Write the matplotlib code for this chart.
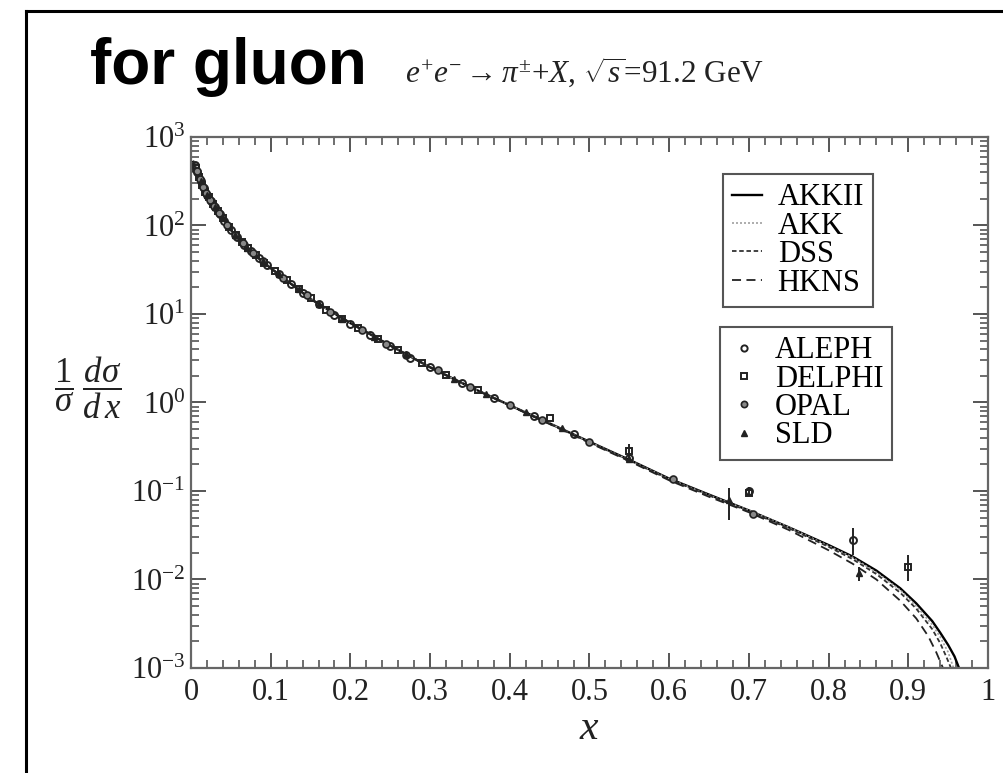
import matplotlib
matplotlib.use("Agg")
import matplotlib.pyplot as plt
from matplotlib.lines import Line2D
from matplotlib.ticker import FixedLocator, FixedFormatter, LogLocator, NullFormatter

plt.rcParams['font.family'] = ['Liberation Serif', 'DejaVu Serif']
plt.rcParams['mathtext.fontset'] = 'custom'
plt.rcParams['mathtext.rm'] = 'Liberation Serif'
plt.rcParams['mathtext.it'] = 'Liberation Serif:italic'
plt.rcParams['mathtext.bf'] = 'Liberation Serif:bold'

# ---------------- theory curves ----------------
akkii_x = [0.003, 0.01, 0.02, 0.03, 0.05, 0.07, 0.10, 0.15, 0.20, 0.25, 0.30, 0.35, 0.40, 0.45,
           0.50, 0.55, 0.60, 0.65, 0.70, 0.75, 0.80, 0.83, 0.86, 0.89, 0.91, 0.93, 0.94, 0.95, 0.958, 0.965]
akkii_y = [525, 355, 229, 166, 89, 55, 33, 14.8, 7.9, 4.4, 2.5, 1.5, 0.93, 0.58,
           0.36, 0.225, 0.138, 0.091, 0.0603, 0.0389, 0.0245, 0.0182, 0.0126, 0.00794, 0.00537,
           0.00339, 0.00251, 0.00182, 0.00135, 0.00093]

akk_x = [0.003, 0.01, 0.02, 0.03, 0.05, 0.07, 0.10, 0.15, 0.20, 0.25, 0.30, 0.35, 0.40, 0.45,
         0.50, 0.55, 0.60, 0.65, 0.70, 0.75, 0.80, 0.83, 0.86, 0.89, 0.91, 0.93, 0.94, 0.95, 0.958]
akk_y = [525, 355, 229, 166, 89, 55, 33, 14.8, 7.9, 4.4, 2.5, 1.5, 0.93, 0.58,
         0.358, 0.223, 0.137, 0.090, 0.0603, 0.0389, 0.0240, 0.0178, 0.0120, 0.00759, 0.00501,
         0.00309, 0.00224, 0.00151, 0.00093]

dss_x = [0.003, 0.01, 0.02, 0.03, 0.05, 0.07, 0.10, 0.15, 0.20, 0.25, 0.30, 0.35, 0.40, 0.45,
         0.50, 0.55, 0.60, 0.65, 0.70, 0.75, 0.80, 0.83, 0.86, 0.89, 0.91, 0.93, 0.94, 0.948, 0.955]
dss_y = [520, 350, 227, 165, 89, 55, 33, 14.8, 7.9, 4.4, 2.5, 1.5, 0.93, 0.575,
         0.355, 0.221, 0.135, 0.089, 0.0589, 0.0380, 0.0234, 0.0170, 0.0115, 0.00708, 0.00468,
         0.00275, 0.00191, 0.00132, 0.00093]

hkns_x = [0.003, 0.01, 0.02, 0.03, 0.05, 0.07, 0.10, 0.15, 0.20, 0.25, 0.30, 0.35, 0.40, 0.45,
          0.50, 0.55, 0.60, 0.65, 0.70, 0.75, 0.80, 0.83, 0.86, 0.89, 0.91, 0.925, 0.935, 0.945]
hkns_y = [515, 350, 227, 165, 89, 55, 33, 14.8, 7.9, 4.4, 2.5, 1.5, 0.92, 0.57,
          0.35, 0.217, 0.132, 0.086, 0.0575, 0.0363, 0.0214, 0.0151, 0.0100, 0.00575, 0.00363,
          0.00229, 0.00151, 0.00093]

# ---------------- data ----------------
aleph_x = [0.005, 0.008, 0.012, 0.016, 0.020, 0.025, 0.030, 0.036, 0.042, 0.050, 0.058, 0.066,
           0.075, 0.085, 0.095, 0.110, 0.125, 0.140, 0.160, 0.180, 0.200, 0.225, 0.250, 0.275,
           0.300, 0.340, 0.380, 0.430, 0.480, 0.550, 0.700, 0.830]
aleph_y = [480, 400, 316, 263, 224, 190, 162, 135, 112, 89, 74, 60,
           51, 43, 36, 28, 22, 17.4, 12.9, 9.8, 7.8, 5.8, 4.4, 3.2,
           2.5, 1.66, 1.12, 0.71, 0.44, 0.235, 0.100, 0.028]

delphi_x = [0.006, 0.010, 0.014, 0.018, 0.022, 0.028, 0.034, 0.040, 0.048, 0.056, 0.064, 0.072,
            0.082, 0.092, 0.105, 0.120, 0.135, 0.150, 0.170, 0.190, 0.210, 0.235, 0.260, 0.290,
            0.320, 0.360, 0.450, 0.550, 0.700, 0.900]
delphi_y = [447, 355, 288, 240, 209, 174, 145, 120, 95, 78, 65, 55,
            46, 38, 31, 24, 19, 15, 11.2, 8.7, 6.9, 5.2, 3.9, 2.8,
            2.05, 1.38, 0.66, 0.28, 0.095, 0.014]

opal_x = [0.007, 0.011, 0.015, 0.019, 0.024, 0.029, 0.035, 0.045, 0.055, 0.065, 0.078, 0.090,
          0.115, 0.145, 0.175, 0.215, 0.245, 0.270, 0.310, 0.350, 0.400, 0.440, 0.500, 0.605, 0.705]
opal_y = [417, 331, 275, 234, 195, 166, 138, 102, 79, 63, 49, 40,
          25.7, 16.2, 10.5, 6.6, 4.6, 3.4, 2.3, 1.51, 0.93, 0.63, 0.355, 0.135, 0.055]

sld_x = [0.012, 0.020, 0.030, 0.040, 0.055, 0.070, 0.090, 0.110, 0.135, 0.160, 0.190, 0.230,
         0.270, 0.330, 0.370, 0.420, 0.465, 0.550, 0.675, 0.838]
sld_y = [316, 224, 162, 120, 79, 56, 40, 28, 19, 12.9, 8.7, 5.5,
         3.5, 1.82, 1.26, 0.78, 0.51, 0.23, 0.079, 0.0117]

# visible error bars (x, value, lower, upper)
err_x = [0.550, 0.675, 0.700, 0.830, 0.838, 0.900]
err_y = [0.28, 0.079, 0.100, 0.028, 0.0117, 0.014]
err_lo = [0.22, 0.047, 0.088, 0.019, 0.0096, 0.0096]
err_hi = [0.34, 0.108, 0.112, 0.038, 0.0140, 0.019]

x_ticks = [0, 0.1, 0.2, 0.3, 0.4, 0.5, 0.6, 0.7, 0.8, 0.9, 1.0]
x_ticklabels = ['0', '0.1', '0.2', '0.3', '0.4', '0.5', '0.6', '0.7', '0.8', '0.9', '1']
y_ticks = [1e-3, 1e-2, 1e-1, 1e0, 1e1, 1e2, 1e3]
y_ticklabels = [r'$10^{-3}$', r'$10^{-2}$', r'$10^{-1}$', r'$10^{0}$', r'$10^{1}$', r'$10^{2}$', r'$10^{3}$']

# ---------------- figure ----------------
W, H = 1004, 773
fig = plt.figure(figsize=(W / 100, H / 100), dpi=100)
ax = fig.add_axes([191 / W, 1 - 668 / H, (988 - 191) / W, (668 - 137) / H])
ax.set_yscale('log')
ax.set_xlim(0, 1)
ax.set_ylim(1e-3, 1e3)

l1, = ax.plot(akkii_x, akkii_y, color='black', lw=1.7, ls='-')
l2, = ax.plot(akk_x, akk_y, color='#a0a0a0', lw=1.2, ls=(0, (1.2, 1.2)))
l3, = ax.plot(dss_x, dss_y, color='#333333', lw=1.3, ls=(0, (2.5, 1.5)))
l4, = ax.plot(hkns_x, hkns_y, color='#222222', lw=1.3, ls=(0, (5, 3)))

ax.errorbar(err_x, err_y, yerr=[[v - lo for v, lo in zip(err_y, err_lo)],
                                [hi - v for v, hi in zip(err_y, err_hi)]],
            fmt='none', ecolor='#222222', elinewidth=1.4, capsize=0)

ms = 5
p1, = ax.plot(aleph_x, aleph_y, ls='none', marker='o', ms=ms, mfc='none', mec='#222222', mew=1.4)
p2, = ax.plot(delphi_x, delphi_y, ls='none', marker='s', ms=ms, mfc='none', mec='#222222', mew=1.4)
p3, = ax.plot(opal_x, opal_y, ls='none', marker='o', ms=ms, mfc='#888888', mec='#222222', mew=1.2)
p4, = ax.plot(sld_x, sld_y, ls='none', marker='^', ms=ms, mfc='#222222', mec='#222222', mew=1.0)

ax.xaxis.set_major_locator(FixedLocator(x_ticks))
ax.xaxis.set_major_formatter(FixedFormatter(x_ticklabels))
ax.xaxis.set_minor_locator(FixedLocator([i * 0.02 for i in range(51)]))
ax.yaxis.set_major_locator(FixedLocator(y_ticks))
ax.yaxis.set_major_formatter(FixedFormatter(y_ticklabels))
ax.yaxis.set_minor_locator(LogLocator(base=10, subs=range(2, 10), numticks=20))
ax.yaxis.set_minor_formatter(NullFormatter())

ax.tick_params(which='both', direction='in', top=True, right=True, colors='#555555',
               labelcolor='#222222', labelsize=22)
ax.tick_params(which='major', length=11, width=1.4)
ax.tick_params(axis='x', which='major', pad=7)
ax.tick_params(axis='y', which='major', pad=4)
ax.tick_params(which='minor', length=6, width=1.2)
for s in ax.spines.values():
    s.set_color('#666666')
    s.set_linewidth(1.6)

ax.set_xlabel(r'$x$', fontsize=30, labelpad=2, color='#222222')
fig.text(88 / W, 1 - 388 / H, r'$\dfrac{1}{\sigma}\;\dfrac{d\sigma}{d\,x}$', fontsize=25,
         ha='center', va='center', color='#222222')

common = dict(loc='upper right', fontsize=22, frameon=True, fancybox=False, edgecolor='#555555',
              framealpha=1, handlelength=1.0, handletextpad=0.5, labelspacing=-0.02,
              borderpad=0.3, borderaxespad=0)
leg1 = ax.legend([l1, l2, l3, l4], ['AKKII', 'AKK', 'DSS', 'HKNS'],
                 bbox_to_anchor=(0.856, 0.930), **common)
leg1.get_frame().set_linewidth(1.5)
ax.add_artist(leg1)
leg2 = ax.legend([p1, p2, p3, p4], ['ALEPH', 'DELPHI', 'OPAL', 'SLD'],
                 bbox_to_anchor=(0.880, 0.642), markerscale=0.9, **common)
leg2.get_frame().set_linewidth(1.5)

# titles
fig.text(90 / W, 1 - 84 / H, 'for gluon', fontsize=46, fontweight='bold',
         family=['Liberation Sans', 'DejaVu Sans'], ha='left', va='baseline', color='black')
fig.text(405 / W, 1 - 83 / H, r'$e^{+}e^{-}\rightarrow\pi^{\pm}$+$X$, $\sqrt{s}$=91.2 GeV',
         fontsize=22.5, ha='left', va='baseline', color='#222222')

# frame border of the image
fig.add_artist(Line2D([26 / W, 26 / W], [0, 1 - 11 / H], color='black', lw=2.2, transform=fig.transFigure))
fig.add_artist(Line2D([26 / W, 1.0], [1 - 11 / H, 1 - 11 / H], color='black', lw=2.2, transform=fig.transFigure))

fig.savefig('out.png', dpi=100)
